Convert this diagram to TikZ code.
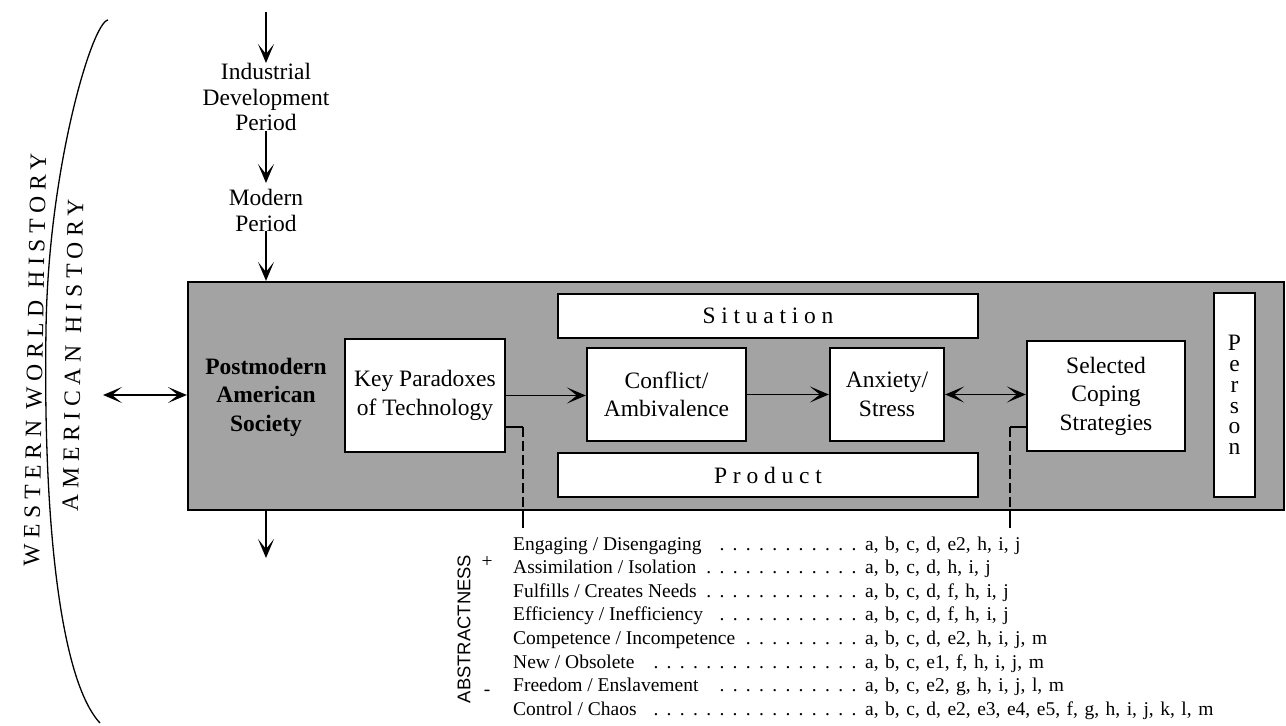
\documentclass[tikz,border=0pt]{standalone}
\usepackage{fontspec}
\setmainfont{Liberation Serif}
\newfontfamily\absfont{Liberation Sans}
\usetikzlibrary{arrows.meta}
\newcommand\dgfont{\fontsize{23.5}{28.5}\selectfont}
\newcommand\dgtopfont{\fontsize{23.5}{25.5}\selectfont}
\newcommand\dgspaced{\fontsize{23.5}{28}\selectfont\addfontfeature{LetterSpace=24.5}}
\newcommand\dgperson{\fontsize{23.5}{20.8}\selectfont}
\newcommand\tabfont{\fontsize{19.5}{23.6}\selectfont}
\newcommand\valfont{\tabfont\spaceskip=6.5pt\relax}
\newcommand\dotrow[1]{\makebox[346pt][l]{#1\leaders\hbox to 13.2pt{\hfil.}\hfill}}
\begin{document}
\begin{tikzpicture}[x=1pt,y=-1pt,
  box/.style={draw, line width=2.2pt, fill=white, inner sep=0pt, align=center, font=\dgfont},
  tip/.tip={Stealth[length=19pt,width=16pt,inset=10pt]},
  arr/.style={line width=1.6pt, -tip},
  darr/.style={line width=1.6pt, tip-tip},
  conn/.style={line width=1.4pt},
  dconn/.style={line width=1.4pt, dash pattern=on 10pt off 4pt},
  lab/.style={anchor=base west, inner sep=0pt, font=\tabfont},
  val/.style={anchor=base west, inner sep=0pt, font=\valfont},
  toptext/.style={align=center, inner sep=0pt, font=\dgtopfont}]
\useasboundingbox (0,0) rectangle (1286,726);

% history arc and labels
\draw[line width=1.3pt] (108,20) .. controls (92,22) and (48,170) .. (46,330)
  .. controls (43,520) and (60,680) .. (100,723);
\node[rotate=89, inner sep=0pt, font=\dgspaced] (wwh) at (35,360) {WESTERN WORLD HISTORY};
\node[rotate=89, inner sep=0pt, font=\dgspaced] (amh) at (73,355) {AMERICAN HISTORY};

% main shaded box
\node[draw, line width=2.2pt, fill=black!36, minimum width=1096pt, minimum height=228pt, inner sep=0pt] (soc) at (736,396) {};

% top chain
\coordinate (t0) at (266,12);
\node[toptext, anchor=north] (ind) at (266,63) {Industrial\\Development\\Period};
\node[toptext, anchor=north] (mod) at (266,189) {Modern\\Period};
\draw[arr] (t0) -- (ind.north);
\draw[arr, shorten >=6pt] (ind.south) -- (mod.north);
\draw[arr] (mod.south) -- (mod.south |- soc.north);
\coordinate (bt) at (266,558);
\draw[arr] (bt |- soc.south) -- (bt);
\coordinate (lh) at (103,395);
\draw[darr] (lh) -- (lh -| soc.west);

% inside
\node[align=center, inner sep=0pt, font=\dgfont\bfseries] (pas) at (266,397) {Postmodern\\American\\Society};
\node[box, minimum width=160pt, minimum height=113pt] (key) at (425,395.5) {Key Paradoxes\\of Technology};
\node[box, minimum width=420pt, minimum height=44pt, font=\dgspaced] (sit) at (768,316) {Situation};
\node[box, minimum width=159pt, minimum height=93pt] (conf) at (666.5,394.5) {Conflict/\\Ambivalence};
\node[box, minimum width=114pt, minimum height=93pt] (anx) at (887,394.5) {Anxiety/\\Stress};
\node[box, minimum width=420pt, minimum height=44pt, font=\dgspaced] (prod) at (768,475) {Product};
\node[box, minimum width=158pt, minimum height=110pt] (cope) at (1106,396) {Selected\\Coping\\Strategies};
\node[box, minimum width=41pt, minimum height=204pt, font=\dgperson] (pers) at (1234.5,395) {P\\e\\r\\s\\o\\n};

\draw[arr] (key.east) -- (key.east -| conf.west);
\draw[arr] (conf.east) -- (conf.east -| anx.west);
\draw[darr] (anx.east) -- (anx.east -| cope.west);

% dashed leaders to table
\coordinate (kd) at (523,427);
\coordinate (kend) at (523,528);
\draw[conn] (kd -| key.east) -- (kd);
\draw[dconn] (kd) -- (kd |- soc.south);
\draw[conn] (kd |- soc.south) -- (kend);
\coordinate (cd) at (1010,427);
\coordinate (cend) at (1010,528);
\draw[conn] (cd -| cope.west) -- (cd);
\draw[dconn] (cd) -- (cd |- soc.south);
\draw[conn] (cd |- soc.south) -- (cend);

% table
\node[rotate=90, inner sep=0pt, font=\absfont\fontsize{18.4}{20}\selectfont] (abs) at (464,629) {ABSTRACTNESS};
\node[inner sep=0pt, font=\tabfont] (plus) at (487,562) {+};
\node[inner sep=0pt, font=\tabfont] (minus) at (487,693) {-};

\node[lab] (l1) at (513,550) {\dotrow{Engaging / Disengaging}};
\node[lab] (l2) at (513,573.6) {\dotrow{Assimilation / Isolation}};
\node[lab] (l3) at (513,597.2) {\dotrow{Fulfills / Creates Needs}};
\node[lab] (l4) at (513,620.8) {\dotrow{Efficiency / Inefficiency}};
\node[lab] (l5) at (513,644.4) {\dotrow{Competence / Incompetence}};
\node[lab] (l6) at (513,668) {\dotrow{New / Obsolete}};
\node[lab] (l7) at (513,691.6) {\dotrow{Freedom / Enslavement}};
\node[lab] (l8) at (513,715.2) {\dotrow{Control / Chaos}};

\node[val] (v1) at (865,550) {a, b, c, d, e2, h, i, j};
\node[val] (v2) at (865,573.6) {a, b, c, d, h, i, j};
\node[val] (v3) at (865,597.2) {a, b, c, d, f, h, i, j};
\node[val] (v4) at (865,620.8) {a, b, c, d, f, h, i, j};
\node[val] (v5) at (865,644.4) {a, b, c, d, e2, h, i, j, m};
\node[val] (v6) at (865,668) {a, b, c, e1, f, h, i, j, m};
\node[val] (v7) at (865,691.6) {a, b, c, e2, g, h, i, j, l, m};
\node[val] (v8) at (865,715.2) {a, b, c, d, e2, e3, e4, e5, f, g, h, i, j, k, l, m};
\end{tikzpicture}
\end{document}
